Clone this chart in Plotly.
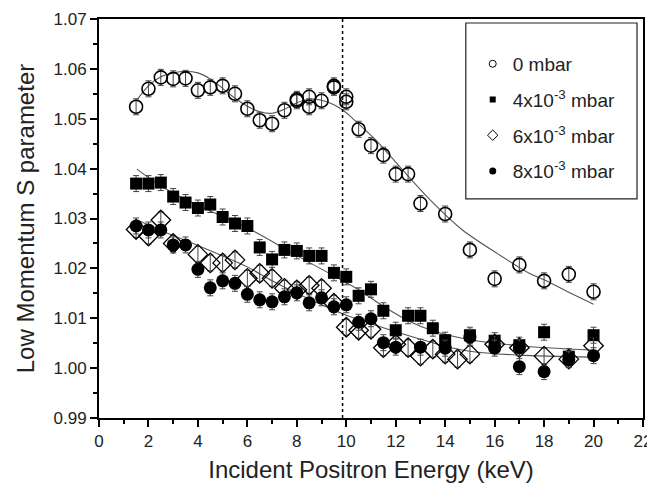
import plotly.graph_objects as go

# ---------------- data ----------------
# 0 mbar (open circles)
e_0mbar = [1.5, 2.0, 2.5, 3.0, 3.5, 4.0, 4.5, 5.0, 5.5, 6.0, 6.5, 7.0, 7.5, 8.0, 8.0, 8.5, 8.5, 9.0,
           9.5, 9.5, 10.0, 10.0, 10.5, 11.0, 11.5, 12.0, 12.5, 13.0, 14.0, 15.0, 16.0, 17.0, 18.0, 19.0, 20.0]
s_0mbar = [1.0524, 1.0560, 1.0583, 1.0580, 1.0581, 1.0557, 1.0563, 1.0566, 1.0550, 1.0520, 1.0497, 1.0490,
           1.0517, 1.0539, 1.0536, 1.0544, 1.0524, 1.0536, 1.0566, 1.0563, 1.0544, 1.0534, 1.0479, 1.0446,
           1.0427, 1.0389, 1.0389, 1.0330, 1.0309, 1.0237, 1.0179, 1.0207, 1.0175, 1.0188, 1.0153]

# 4x10^-3 mbar (filled squares)
e_4mbar = [1.5, 2.0, 2.5, 3.0, 3.5, 4.0, 4.5, 5.0, 5.5, 6.0, 6.5, 7.0, 7.5, 8.0, 8.5, 9.0, 9.5, 10.0,
           10.5, 11.0, 11.5, 12.0, 12.5, 13.0, 13.5, 14.0, 15.0, 16.0, 17.0, 18.0, 19.0, 20.0]
s_4mbar = [1.0370, 1.0370, 1.0372, 1.0344, 1.0332, 1.0321, 1.0328, 1.0303, 1.0290, 1.0285, 1.0242, 1.0218,
           1.0237, 1.0235, 1.0225, 1.0225, 1.0191, 1.0183, 1.0145, 1.0158, 1.0115, 1.0076, 1.0105, 1.0105,
           1.0080, 1.0056, 1.0066, 1.0055, 1.0046, 1.0072, 1.0023, 1.0066]

# 6x10^-3 mbar (open diamonds)
e_6mbar = [1.5, 2.0, 2.5, 3.0, 4.0, 4.5, 5.0, 5.5, 6.0, 6.5, 7.0, 7.5, 8.0, 8.5, 9.0, 9.5, 10.0, 10.5,
           11.0, 11.5, 12.0, 12.5, 13.0, 13.5, 14.0, 14.5, 15.0, 16.0, 17.0, 18.0, 19.0, 20.0]
s_6mbar = [1.0278, 1.0265, 1.0297, 1.0250, 1.0228, 1.0211, 1.0211, 1.0217, 1.0180, 1.0190, 1.0180, 1.0160,
           1.0157, 1.0166, 1.0160, 1.0130, 1.0082, 1.0076, 1.0078, 1.0041, 1.0048, 1.0041, 1.0024, 1.0038,
           1.0028, 1.0018, 1.0028, 1.0048, 1.0041, 1.0024, 1.0018, 1.0045]

# 8x10^-3 mbar (filled circles)
e_8mbar = [1.5, 2.0, 2.5, 3.0, 3.5, 4.0, 4.5, 5.0, 5.5, 6.0, 6.5, 7.0, 7.5, 8.0, 8.5, 9.0, 9.5, 10.0,
           10.5, 11.0, 11.5, 12.0, 13.0, 14.0, 15.0, 16.0, 17.0, 17.0, 18.0, 19.0, 20.0]
s_8mbar = [1.0285, 1.0277, 1.0277, 1.0247, 1.0247, 1.0198, 1.0161, 1.0175, 1.0170, 1.0148, 1.0137, 1.0133,
           1.0143, 1.0151, 1.0131, 1.0141, 1.0123, 1.0127, 1.0092, 1.0099, 1.0051, 1.0042, 1.0042, 1.0040,
           1.0062, 1.0040, 1.0041, 1.0003, 0.9993, 1.0017, 1.0025]

s_error = 0.0016

# fitted curves
fit0_e = [1.55, 2.0, 2.5, 3.0, 3.5, 4.0, 4.5, 5.0, 5.5, 6.0, 6.5, 7.0, 7.5, 8.0, 8.5, 9.0, 9.5, 10.0,
          10.4, 11.2, 11.8, 13.4, 14.7, 16.1, 17.4, 18.0, 19.0, 20.0]
fit0_s = [1.0539, 1.0566, 1.0584, 1.0592, 1.0595, 1.0592, 1.0580, 1.0561, 1.0541, 1.0525, 1.0514, 1.0511,
          1.0519, 1.0532, 1.0539, 1.0537, 1.0528, 1.0512, 1.0494, 1.0457, 1.0424, 1.0337, 1.0277, 1.0230,
          1.0190, 1.0177, 1.0152, 1.0128]

fit4_e = [1.53, 2.5, 3.5, 4.5, 5.5, 6.5, 7.5, 8.5, 9.5, 10.5, 11.5, 12.5, 13.5, 15.0, 17.0, 20.0]
fit4_s = [1.0399, 1.0365, 1.0338, 1.0315, 1.0293, 1.0268, 1.0240, 1.0212, 1.0185, 1.0157, 1.0124, 1.0095,
          1.0075, 1.0057, 1.0045, 1.0036]

fit68_e = [1.5, 2.7, 4.0, 5.0, 6.0, 7.0, 8.0, 9.0, 10.0, 11.0, 12.0, 13.0, 14.0, 15.0, 17.0, 20.0]
fit68_s = [1.0298, 1.0272, 1.0246, 1.0225, 1.0203, 1.0175, 1.0150, 1.0127, 1.0106, 1.0089, 1.0073, 1.0058,
           1.0044, 1.0034, 1.0026, 1.0022]

boundary_energy = 9.85

legend_names = ["0 mbar", "4x10<sup>-3</sup> mbar", "6x10<sup>-3</sup> mbar", "8x10<sup>-3</sup> mbar"]
x_tick_vals = list(range(0, 23, 2))
y_tick_vals = [0.99, 1.00, 1.01, 1.02, 1.03, 1.04, 1.05, 1.06, 1.07]

# ---------------- figure ----------------
FONT = "Arial, 'Liberation Sans', sans-serif"
fig = go.Figure()

fit_line = dict(color="#555555", width=1.1, shape="spline", smoothing=0.8)
for fe, fs in [(fit0_e, fit0_s), (fit4_e, fit4_s), (fit68_e, fit68_s)]:
    fig.add_trace(go.Scatter(x=fe, y=fs, mode="lines", line=fit_line, showlegend=False, hoverinfo="skip"))

err = dict(type="constant", value=s_error, color="#444444", thickness=1, width=3)
series = [
    (e_0mbar, s_0mbar, dict(symbol="circle-open", size=13, color="black", line=dict(width=1.6, color="black"))),
    (e_4mbar, s_4mbar, dict(symbol="square", size=12, color="black", line=dict(width=0))),
    (e_6mbar, s_6mbar, dict(symbol="diamond-open", size=15, color="black", line=dict(width=1.3, color="black"))),
    (e_8mbar, s_8mbar, dict(symbol="circle", size=13, color="black", line=dict(width=0))),
]
for ex, sy, mk in series:
    fig.add_trace(go.Scatter(x=ex, y=sy, mode="markers", marker=mk, error_y=err, showlegend=False))

# legend entries with small symbols
legend_markers = [
    dict(symbol="circle-open", size=7, color="black", line=dict(width=1, color="black")),
    dict(symbol="square", size=6, color="black"),
    dict(symbol="diamond-open", size=8, color="black", line=dict(width=1, color="black")),
    dict(symbol="circle", size=7, color="black"),
]
for i, (name, mk) in enumerate(zip(legend_names, legend_markers)):
    fig.add_trace(go.Scatter(x=[None], y=[None], mode="markers", marker=mk, name=name,
                             legendgroup=f"g{i}", showlegend=True))

fig.add_vline(x=boundary_energy, line=dict(color="black", width=1.5, dash="dot"))

# legend frame
fig.add_shape(type="rect", xref="paper", yref="paper", x0=0.6743, x1=0.989, y0=0.549, y1=0.990,
              line=dict(color="#222222", width=1.2), fillcolor="rgba(0,0,0,0)")

axis_common = dict(showline=True, linecolor="black", linewidth=2, mirror=True, ticks="outside",
                   ticklen=7, tickwidth=1.5, tickcolor="black", showgrid=False, zeroline=False,
                   automargin=False,
                   tickfont=dict(family=FONT, size=17, color="#222222"))

# the page body has an 8px margin, so the figure is sized/offset to fill the 655x494 window
fig.update_layout(
    width=647, height=478,
    margin=dict(l=91, r=12, t=11, b=68, autoexpand=False),
    paper_bgcolor="white", plot_bgcolor="white",
    font=dict(family=FONT, color="#222222"),
    xaxis=dict(range=[0, 22], tickvals=x_tick_vals,
               minor=dict(ticks="outside", ticklen=4, tickwidth=1.5, tickcolor="black", dtick=1),
               title=dict(text="Incident Positron Energy (keV)", font=dict(family=FONT, size=24, color="#222222"),
                          standoff=11),
               **axis_common),
    yaxis=dict(range=[0.99, 1.07], tickvals=y_tick_vals, tickformat=".2f",
               minor=dict(ticks="outside", ticklen=4, tickwidth=1.5, tickcolor="black", dtick=0.005),
               title=dict(text="Low Momentum S parameter", font=dict(family=FONT, size=24, color="#222222"),
                          standoff=12),
               **axis_common),
    legend=dict(x=0.687, y=0.935, xanchor="left", yanchor="top", bgcolor="rgba(0,0,0,0)",
                borderwidth=0, font=dict(family=FONT, size=19, color="#222222"), tracegroupgap=8),
)

fig.write_html("out.html")
